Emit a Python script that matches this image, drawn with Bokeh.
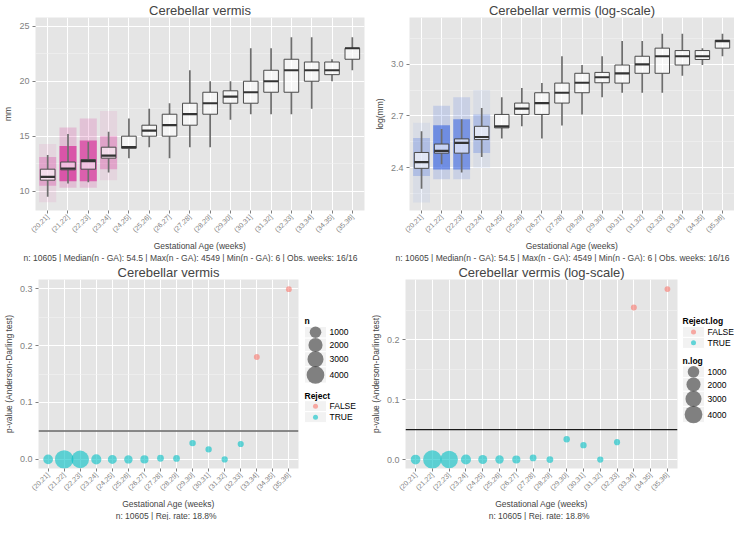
import math
import numpy as np
from bokeh.plotting import figure
from bokeh.layouts import column, row
from bokeh.models import (ColumnDataSource, FactorRange, Range1d, Title, Span,
                          FixedTicker, NumeralTickFormatter)
from bokeh.embed import file_html
from bokeh.resources import INLINE
from bokeh.core.properties import value

FONT = "Liberation Sans"

# ---------------- data ----------------
weeks = ["(20,21]", "(21,22]", "(22,23]", "(23,24]", "(24,25]", "(25,26]",
         "(26,27]", "(27,28]", "(28,29]", "(29,30]", "(30,31]", "(31,32]",
         "(32,33]", "(33,34]", "(34,35]", "(35,36]"]

# box statistics, mm
mm_lo  = [9.5, 10.7, 10.8, 11.7, 13.0, 14.0, 13.0, 14.0, 14.0, 16.5, 17.0, 17.0, 17.0, 17.5, 20.0, 21.0]
mm_q1  = [11.0, 11.94, 12.0, 13.0, 13.9, 15.0, 15.0, 16.0, 17.0, 18.0, 18.0, 19.0, 19.0, 20.0, 20.6, 22.0]
mm_med = [11.3, 12.06, 12.74, 13.24, 14.0, 15.5, 16.0, 17.0, 18.0, 18.6, 19.0, 20.0, 21.0, 21.0, 21.0, 23.0]
mm_q3  = [12.0, 12.65, 12.88, 14.0, 15.0, 16.0, 17.0, 18.0, 19.0, 19.13, 20.0, 21.0, 22.0, 21.75, 21.75, 23.0]
mm_hi  = [13.3, 15.2, 14.5, 15.4, 16.6, 17.5, 18.0, 21.0, 20.0, 20.0, 23.0, 23.0, 24.0, 24.0, 22.0, 24.0]

# box statistics, log(mm)
log_lo  = [2.278, 2.419, 2.372, 2.462, 2.569, 2.640, 2.569, 2.644, 2.709, 2.809, 2.835, 2.835, 2.835, 2.934, 2.996, 3.047]
log_q1  = [2.396, 2.484, 2.484, 2.563, 2.631, 2.709, 2.709, 2.775, 2.835, 2.893, 2.891, 2.948, 2.948, 2.996, 3.028, 3.094]
log_med = [2.432, 2.497, 2.544, 2.578, 2.640, 2.743, 2.775, 2.835, 2.893, 2.925, 2.948, 3.000, 3.047, 3.047, 3.047, 3.135]
log_q3  = [2.488, 2.537, 2.567, 2.640, 2.709, 2.775, 2.835, 2.891, 2.948, 2.953, 2.996, 3.047, 3.094, 3.080, 3.080, 3.140]
log_hi  = [2.612, 2.625, 2.681, 2.747, 2.809, 2.863, 2.891, 3.047, 2.996, 3.047, 3.135, 3.135, 3.178, 3.178, 3.094, 3.178]

# extent of the jittered raw-measurement clouds (mm) for the densest weeks
cloud_weeks = ["(20,21]", "(21,22]", "(22,23]", "(23,24]"]
cloud_n = [500, 4549, 3900, 600]
cloud_outer_lo = [9.0, 10.3, 10.3, 11.0]
cloud_outer_hi = [14.3, 15.8, 16.6, 17.3]
cloud_core_lo = [10.5, 10.9, 10.9, 12.0]
cloud_core_hi = [13.1, 14.1, 14.6, 15.0]

# Anderson-Darling p-values and group sizes (None = not tested)
n_ga = [500, 4549, 3900, 600, 350, 250, 205, 55, 54, 35, 30, 25, 20, 15, 6, 11]
pval = [0.0, 0.0, 0.0, 0.0, 0.0, 0.0, 0.0, 0.002, 0.0017, 0.0286, 0.0176, 0.0, 0.027, 0.180, None, 0.299]
pval_log = [0.0, 0.0, 0.0, 0.0, 0.0, 0.0, 0.0, 0.0026, 0.0, 0.034, 0.024, 0.0, 0.029, 0.254, None, 0.285]
size_breaks = [1000, 2000, 3000, 4000]
alpha_level = 0.05

title_lin = "Cerebellar vermis"
title_log = "Cerebellar vermis (log-scale)"
xlab = "Gestational Age (weeks)"
sub_top = "n: 10605  |  Median(n - GA): 54.5  |  Max(n - GA): 4549  |  Min(n - GA): 6  |  Obs. weeks: 16/16"
sub_bot = "n: 10605  |  Rej. rate: 18.8%"

# ---------------- styling helpers ----------------
BG = "#E5E5E5"
GREY = "#7F7F7F"
COL_TRUE = "#00BFC4"
COL_FALSE = "#F8766D"

n_min, n_max = min(n_ga), max(n_ga)


def dot_size(n):
    n = np.asarray(n, dtype=float)
    s = 1 + 5 * np.sqrt((n - n_min) / (n_max - n_min))
    return s * 2.62 + 2.8


def base_fig(width, height, title, yr, yticks, yminor, ylabel, left, right, subtitle, fmt):
    p = figure(width=width, height=height,
               x_range=FactorRange(factors=weeks, range_padding=0.1,
                                   range_padding_units="absolute"),
               y_range=Range1d(*yr), toolbar_location=None, output_backend="svg",
               min_border_left=left, min_border_right=right,
               min_border_top=2, min_border_bottom=0)
    p.title.text = title
    p.title.align = "center"
    p.title.text_font = FONT
    p.title.text_font_size = "13px"
    p.title.text_font_style = "normal"
    p.title.standoff = 0
    p.title.offset = 0
    p.background_fill_color = BG
    p.border_fill_color = "white"
    p.outline_line_color = None
    p.axis.axis_line_color = None
    p.axis.major_tick_line_color = GREY
    p.axis.major_tick_out = 3
    p.axis.major_tick_in = 0
    p.axis.minor_tick_line_color = None
    p.axis.major_label_text_color = GREY
    p.axis.major_label_text_font = FONT
    p.axis.major_label_standoff = 2
    p.xaxis.major_label_orientation = math.pi / 4
    p.xaxis.major_label_text_font_size = "7px"
    p.yaxis.major_label_text_font_size = "9px"
    p.yaxis.ticker = FixedTicker(ticks=yticks, minor_ticks=yminor)
    p.yaxis.formatter = NumeralTickFormatter(format=fmt)
    p.yaxis.axis_label = ylabel
    p.yaxis.axis_label_text_font = FONT
    p.yaxis.axis_label_text_font_size = "8.5px"
    p.yaxis.axis_label_text_font_style = "normal"
    p.yaxis.axis_label_standoff = 3
    p.grid.grid_line_color = "white"
    p.grid.grid_line_width = 1
    p.ygrid.minor_grid_line_color = "#F2F2F2"
    p.ygrid.minor_grid_line_width = 0.6
    for txt in (xlab, subtitle):
        p.add_layout(Title(text=txt, align="center", text_font=FONT,
                           text_font_size="8.5px", text_font_style="normal",
                           standoff=0, offset=0), "below")
    return p


def add_boxes(p, lo, q1, med, q3, hi):
    src = ColumnDataSource(dict(x=weeks, lo=lo, q1=q1, med=med, q3=q3, hi=hi))
    p.segment(x0="x", y0="lo", x1="x", y1="q1", source=src, line_color="#6E6E6E", line_width=1.7)
    p.segment(x0="x", y0="q3", x1="x", y1="hi", source=src, line_color="#6E6E6E", line_width=1.7)
    p.vbar(x="x", bottom="q1", top="q3", width=0.72, source=src,
           fill_color="white", fill_alpha=0.62, line_color="#4A4A4A", line_width=1)
    p.rect(x="x", y="med", width=0.72, height=2.2, height_units="screen", source=src,
           fill_color="#333333", line_color=None)


def add_clouds(p, color, tf):
    dens = np.asarray(cloud_n, dtype=float) / n_max
    src = ColumnDataSource(dict(x=cloud_weeks,
                                olo=tf(cloud_outer_lo), ohi=tf(cloud_outer_hi),
                                clo=tf(cloud_core_lo), chi=tf(cloud_core_hi),
                                oa=0.06 + 0.12 * dens, ca=0.2 + 0.42 * dens))
    p.vbar(x="x", bottom="olo", top="ohi", width=0.84, source=src,
           fill_color=color, fill_alpha="oa", line_color=None)
    p.vbar(x="x", bottom="clo", top="chi", width=0.84, source=src,
           fill_color=color, fill_alpha="ca", line_color=None)


# ---------------- top-left: mm ----------------
p1 = base_fig(367, 262, title_lin, (8.24, 25.8), [10, 15, 20, 25], [12.5, 17.5, 22.5],
              "mm", 20, 3, sub_top, "0")
add_clouds(p1, "#D4148C", lambda v: list(v))
add_boxes(p1, mm_lo, mm_q1, mm_med, mm_q3, mm_hi)

# ---------------- top-right: log(mm) ----------------
p2 = base_fig(367, 262, title_log, (2.151, 3.272), [2.4, 2.7, 3.0], [2.25, 2.55, 2.85, 3.15],
              "log(mm)", 42, 0, sub_top, "0.0")
add_clouds(p2, "#3A66E0", lambda v: list(np.log(v)))
add_boxes(p2, log_lo, log_q1, log_med, log_q3, log_hi)


# ---------------- bottom: p-values ----------------
def pval_fig(width, title, pv, yr, yticks, yminor, left, right, hline_color, hline_w):
    p = base_fig(width, 258, title, yr, yticks, yminor,
                 "p-value (Anderson-Darling test)", left, right, sub_bot, "0.0")
    keep = [i for i, v in enumerate(pv) if v is not None]
    xs = [weeks[i] for i in keep]
    ys = [pv[i] for i in keep]
    ns = [n_ga[i] for i in keep]
    cols = [COL_TRUE if v < alpha_level else COL_FALSE for v in ys]
    src = ColumnDataSource(dict(x=xs, y=ys, s=dot_size(ns), c=cols))
    p.scatter(x="x", y="y", size="s", source=src, fill_color="c", fill_alpha=0.6,
              line_color=None)
    p.add_layout(Span(location=alpha_level, dimension="width",
                      line_color=hline_color, line_width=hline_w))
    return p


p3 = pval_fig(300, title_lin, pval, (-0.016, 0.316), [0.0, 0.1, 0.2, 0.3],
              [0.05, 0.15, 0.25], 20, 2, "#666666", 1.6)
p4 = pval_fig(312, title_log, pval_log, (-0.015, 0.301), [0.0, 0.1, 0.2],
              [0.05, 0.15, 0.25], 35, 2, "#1A1A1A", 1.1)


# ---------------- manual legends ----------------
def legend_fig(width, height, blocks, x0, y0):
    lf = figure(width=width, height=height, x_range=Range1d(0, width),
                y_range=Range1d(height, 0), toolbar_location=None, output_backend="svg",
                x_axis_type=None, y_axis_type=None, min_border=0,
                min_border_left=0, min_border_right=0, min_border_top=0, min_border_bottom=0)
    lf.outline_line_color = None
    lf.grid.visible = False
    lf.background_fill_color = "white"
    lf.border_fill_color = "white"
    key_w = 22
    y = y0
    tx, ty, tt = [], [], []
    lx, ly, lt = [], [], []
    kx, ky, kh = [], [], []
    dx, dy, ds, dc = [], [], [], []
    for title, labels, sizes, colors in blocks:
        tx.append(x0); ty.append(y + 5); tt.append(title)
        y += 12
        for lab, s, c in zip(labels, sizes, colors):
            h = max(15.0, s + 4.5)
            cy = y + h / 2
            kx.append(x0 + key_w / 2); ky.append(cy); kh.append(h)
            dx.append(x0 + key_w / 2); dy.append(cy); ds.append(s); dc.append(c)
            lx.append(x0 + key_w + 3); ly.append(cy); lt.append(lab)
            y += h
        y += 12
    lf.rect(x=kx, y=ky, width=key_w, height=kh, fill_color="#F2F2F2",
            line_color="white", line_width=1)
    lf.scatter(x=dx, y=dy, size=ds, fill_color=dc, fill_alpha=0.6, line_color=None)
    lf.text(x=tx, y=ty, text=tt, text_font=value(FONT), text_font_size="8.5px",
            text_font_style="bold", text_baseline="middle", text_align="left")
    lf.text(x=lx, y=ly, text=lt, text_font=value(FONT), text_font_size="8.5px",
            text_baseline="middle", text_align="left")
    return lf


size_labels = [str(b) for b in size_breaks]
size_px = list(dot_size(size_breaks))
rej_labels = ["FALSE", "TRUE"]
rej_colors = [COL_FALSE, COL_TRUE]

n_block = ("n", size_labels, size_px, ["#333333"] * 4)
rej_block = ("Reject", rej_labels, [5, 5], rej_colors)
l3 = legend_fig(67, 258, [n_block, rej_block], 4, 52)

n_block_log = ("n.log", size_labels, size_px, ["#333333"] * 4)
rej_block_log = ("Reject.log", rej_labels, [5, 5], rej_colors)
l4 = legend_fig(55, 258, [rej_block_log, n_block_log], 3, 52)

layout = column(row(p1, p2), row(p3, l3, p4, l4))
open("out.html", "w").write(file_html(layout, INLINE))
